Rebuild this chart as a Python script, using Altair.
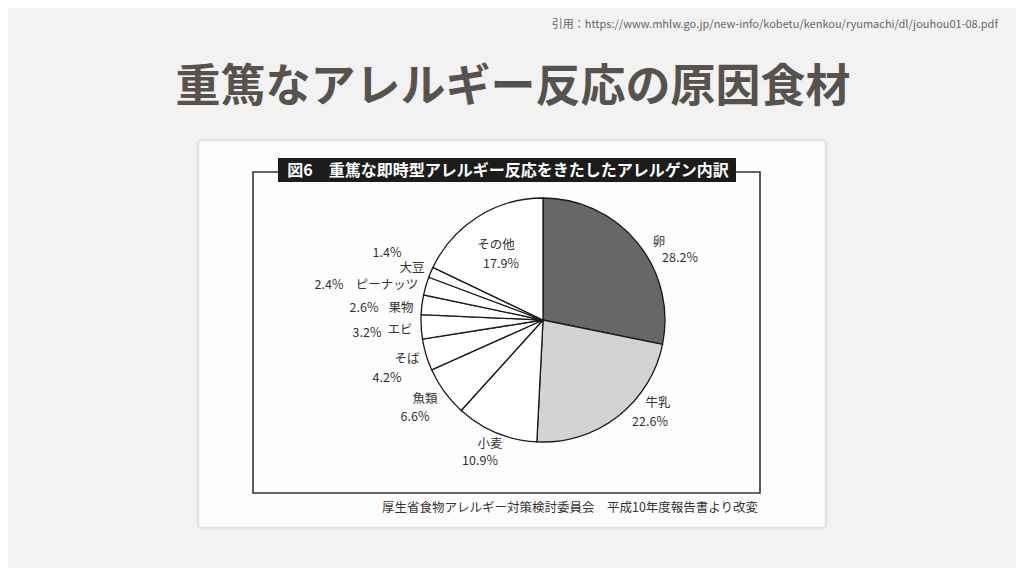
import altair as alt
import pandas as pd

# ---- data ----
categories = ["卵", "牛乳", "小麦", "魚類", "そば", "エビ", "果物", "ピーナッツ", "大豆", "その他"]
shares = [28.2, 22.6, 10.9, 6.6, 4.2, 3.2, 2.6, 2.4, 1.4, 17.9]
fills = ["#676767", "#d3d3d3", "#ffffff", "#ffffff", "#ffffff",
         "#ffffff", "#ffffff", "#ffffff", "#ffffff", "#ffffff"]

title_text = "重篤なアレルギー反応の原因食材"
cite_text = "引用：https://www.mhlw.go.jp/new-info/kobetu/kenkou/ryumachi/dl/jouhou01-08.pdf"
header_text = "図6\u3000重篤な即時型アレルギー反応をきたしたアレルゲン内訳"
footer_text = "厚生省食物アレルギー対策検討委員会　平成10年度報告書より改変"

# ---- label layout (page pixels, centre of each text) ----
name_xy = {"卵": (659, 242), "牛乳": (658, 403), "小麦": (490, 444), "魚類": (425, 399),
           "そば": (407, 359), "エビ": (400, 330), "果物": (401, 308),
           "ピーナッツ": (387, 285), "大豆": (412, 268), "その他": (496, 245)}
pct_xy = {"卵": (680, 258), "牛乳": (650, 422), "小麦": (480, 461), "魚類": (415, 417),
          "そば": (387, 378), "エビ": (367, 333), "果物": (364, 308),
          "ピーナッツ": (329, 285), "大豆": (387, 253), "その他": (501, 264)}

PIE_CX, PIE_CY, PIE_R = 543, 320, 122
FONT = "Noto Sans CJK JP"

df = pd.DataFrame({"cat": categories, "share": shares, "idx": list(range(len(categories)))})
df["pct"] = [f"{v:.1f}%" for v in shares]

X = alt.Scale(domain=[8, 1016], nice=False, zero=False)
Y = alt.Scale(domain=[8, 568], nice=False, zero=False, reverse=True)

def xe(f):
    return alt.X(f, type="quantitative", scale=X, axis=None)

def ye(f):
    return alt.Y(f, type="quantitative", scale=Y, axis=None)

# card
card_df = pd.DataFrame({"x": [198], "x2": [826], "y": [140], "y2": [528]})
card = alt.Chart(card_df).mark_rect(fill="#fdfdfd", stroke="#e4e4e4", strokeWidth=2.5,
                                    cornerRadius=3).encode(
    x=xe("x"), x2="x2", y=ye("y"), y2="y2")

# frame box
box_df = pd.DataFrame({"x": [253], "x2": [760], "y": [172], "y2": [493]})
box = alt.Chart(box_df).mark_rect(fill=None, stroke="#333333", strokeWidth=1.6).encode(
    x=xe("x"), x2="x2", y=ye("y"), y2="y2")

# header bar
hdr_df = pd.DataFrame({"x": [278], "x2": [736], "y": [158], "y2": [182], "cx": [508], "cy": [170.5],
                       "t": [header_text]})
hdr = alt.Chart(hdr_df).mark_rect(fill="#1c1c1c").encode(
    x=xe("x"), x2="x2", y=ye("y"), y2="y2")
hdr_txt = alt.Chart(hdr_df).mark_text(font=FONT, fontSize=16, fontWeight="bold", color="#ffffff",
                                      align="center", baseline="middle").encode(
    x=xe("cx"), y=ye("cy"), text="t:N")

# pie
pie = alt.Chart(df).mark_arc(outerRadius=PIE_R, stroke="#1a1a1a", strokeWidth=1.3).encode(
    theta=alt.Theta("share:Q", stack=True),
    order=alt.Order("idx:Q", sort="ascending"),
    color=alt.Color("cat:N", scale=alt.Scale(domain=categories, range=fills), legend=None),
    x=alt.value(PIE_CX - 8), y=alt.value(PIE_CY - 8),
)

lab_df = pd.DataFrame({
    "cat": categories,
    "pct": df["pct"],
    "nx": [name_xy[c][0] for c in categories], "ny": [name_xy[c][1] for c in categories],
    "px": [pct_xy[c][0] for c in categories], "py": [pct_xy[c][1] for c in categories],
})
names = alt.Chart(lab_df).mark_text(font=FONT, fontSize=12.5, color="#333333",
                                    align="center", baseline="middle").encode(
    x=xe("nx"), y=ye("ny"), text="cat:N")
pcts = alt.Chart(lab_df).mark_text(font=FONT, fontSize=12.5, color="#333333",
                                   align="center", baseline="middle").encode(
    x=xe("px"), y=ye("py"), text="pct:N")

# texts outside the card
txt_df = pd.DataFrame({
    "x": [513, 998, 570], "y": [88, 25, 508],
    "t": [title_text, cite_text, footer_text],
})
title = alt.Chart(txt_df.iloc[[0]]).mark_text(font=FONT, fontSize=45, fontWeight="bold",
                                              color="#57524d", align="center", baseline="middle").encode(
    x=xe("x"), y=ye("y"), text="t:N")
cite = alt.Chart(txt_df.iloc[[1]]).mark_text(font=FONT, fontSize=11, color="#666666",
                                             align="right", baseline="middle").encode(
    x=xe("x"), y=ye("y"), text="t:N")
footer = alt.Chart(txt_df.iloc[[2]]).mark_text(font=FONT, fontSize=12.5, color="#333333",
                                               align="center", baseline="middle").encode(
    x=xe("x"), y=ye("y"), text="t:N")

chart = alt.layer(card, box, hdr, hdr_txt, pie, names, pcts, title, cite, footer).properties(
    width=1008, height=560, padding=0,
    autosize=alt.AutoSizeParams(type="none"),
    background="#f2f2f2",
).configure_view(stroke=None)

chart.save("out.html", embed_options={"renderer": "svg", "actions": False})
